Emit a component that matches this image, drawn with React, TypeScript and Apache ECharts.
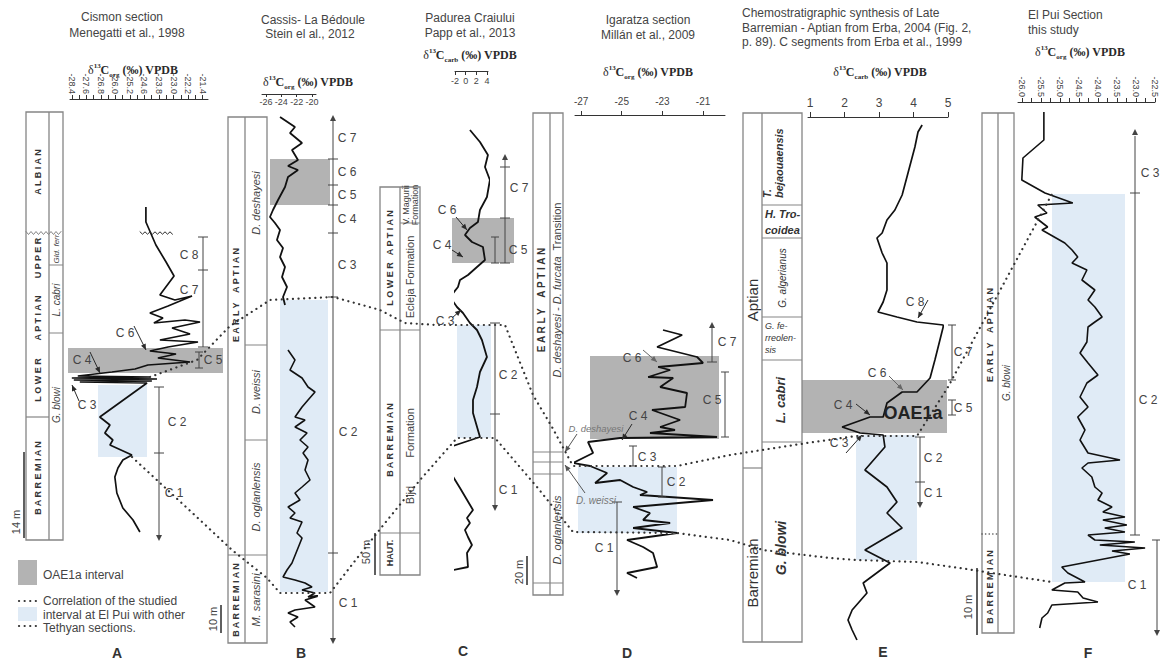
import React, { useEffect, useRef } from "react";
import * as echarts from "echarts";

// ---------------- DATA ----------------
// Tick labels
const ticksA = ["-28.4", "-27.6", "-26.8", "-26.0", "-25.2", "-24.6", "-23.8", "-23.0", "-22.2", "-21.4"];
const tickValuesA = [-28.4, -27.6, -26.8, -26.0, -25.2, -24.4, -23.6, -22.8, -22.0, -21.2];
const tickMinorA = [-28.4, -28.0, -27.6, -27.2, -26.8, -26.4, -26.0, -25.6, -25.2, -24.8, -24.4, -24.0, -23.6, -23.2, -22.8, -22.4, -22.0, -21.6, -21.2];
const ticksB = [-26, -24, -22, -20];
const ticksC = [-2, 0, 2, 4];
const ticksD = [-27, -25, -23, -21];
const ticksE = [1, 2, 3, 4, 5];
const ticksF = [-26, -25.5, -25, -24.5, -24, -23.5, -23, -22.5];
const tickMinorF = [-26, -25.75, -25.5, -25.25, -25, -24.75, -24.5, -24.25, -24, -23.75, -23.5, -23.25, -23, -22.75, -22.5];

// A - Cismon (d13C org) ; level = relative stratigraphic position (top -> bottom)
const cismonLevel = [207, 222, 245, 262, 276, 295, 300, 296, 306, 313, 318, 323, 320, 322, 328, 334, 340, 342, 347, 351, 354, 358, 362, 365, 369, 372, 374, 376, 377, 378, 379, 380, 381, 382, 383, 417, 425, 433, 440, 445, 455, 460, 468, 477, 493, 508, 520, 532];
const cismonD13C = [-24.32, -24.32, -23.77, -23.21, -22.77, -23.55, -22.72, -21.78, -23.1, -24.1, -23.38, -23.88, -22.17, -21.34, -22.88, -21.89, -23.55, -21.45, -23.1, -24.1, -22.66, -23.66, -21.89, -24.21, -24.92, -26.19, -27.13, -28.07, -24.1, -28.4, -23.71, -28.29, -23.99, -27.96, -24.26, -26.86, -26.3, -26.58, -26.14, -26.3, -25.09, -25.59, -25.86, -26.03, -25.92, -25.59, -25.03, -24.65];

// B - Cassis-La Bedoule (d13C org)
const cassisUpperLevel = [117, 127, 133, 143, 150, 160, 166, 170, 177, 187, 200, 210, 217, 223, 230, 240, 248, 257, 267, 277, 287, 297, 305];
const cassisUpperD13C = [-24.17, -22.22, -22.87, -21.3, -22.61, -21.83, -23.13, -21.83, -23.13, -23.52, -24.43, -25.09, -25.48, -24.83, -24.17, -24.57, -23.78, -24.17, -23.52, -23.91, -23.26, -23.78, -23.52];
const cassisLowerLevel = [350, 360, 370, 378, 387, 392, 400, 407, 417, 420, 427, 433, 440, 447, 453, 460, 470, 480, 487, 493, 500, 507, 513, 518, 522, 533, 538, 563, 570, 577, 580, 583, 587, 590, 593, 597, 595, 600, 607, 610, 613, 617, 622, 627];
const cassisLowerD13C = [-23.13, -22.22, -22.87, -21.3, -20.52, -19.61, -20.52, -21.3, -22.22, -20.91, -22.22, -20.65, -21.57, -20.52, -21.17, -20.52, -20.91, -20.26, -21.3, -22.22, -21.57, -23.13, -22.22, -22.87, -21.3, -21.96, -21.3, -22.61, -23.26, -23.78, -22.22, -20.91, -20.0, -21.3, -19.61, -20.52, -18.7, -20.91, -19.61, -22.22, -23.13, -21.83, -22.87, -22.22];

// C - Padurea Craiului (d13C carb)
const padureaLevel = [130, 142, 155, 167, 180, 197, 210, 222, 228, 235, 242, 247, 260, 267, 275, 280, 287, 297, 307, 313, 323, 330, 340, 357, 372, 387, 400, 413, 437, 453, 467, 488, 510, 518, 523, 530, 537, 545, 553, 567, 573];
const padureaD13C = [0.81, 2.69, 4.19, 3.63, 4.56, 4.0, 2.69, 2.31, 0.81, -0.13, 1.19, 3.25, 3.63, 2.13, 0.44, -1.06, -1.44, -2.94, -1.63, -0.5, 0.81, 2.13, 3.06, 4.0, 2.69, 2.13, 1.38, 1.38, 2.69, -6.31, -3.5, -1.06, 1.38, 0.25, 0.81, -0.13, 0.44, 1.19, 0.25, 0.44, -5.19];

// D - Igaratza (d13C org)
const igaratzaLevel = [330, 335, 347, 357, 363, 367, 370, 377, 378, 387, 393, 407, 410, 420, 427, 430, 433, 437, 438, 442, 453, 463, 466, 473, 483, 480, 487, 492, 495, 500, 507, 513, 520, 523, 528, 533, 540, 547, 553, 567, 573, 578];
const igaratzaD13C = [-22.97, -22.03, -23.26, -21.29, -21.0, -23.21, -22.62, -23.7, -22.47, -23.11, -21.79, -21.88, -23.51, -22.13, -23.11, -22.38, -23.61, -20.31, -25.08, -26.66, -26.41, -27.39, -26.56, -25.72, -26.31, -25.08, -24.44, -23.75, -24.1, -20.51, -24.44, -23.61, -23.95, -22.62, -24.44, -22.28, -24.74, -23.95, -23.46, -23.26, -24.74, -24.25];

// E - Erba synthesis (d13C carb)
const erbaLevel = [125, 132, 147, 173, 195, 210, 220, 233, 238, 253, 263, 290, 302, 312, 317, 322, 325, 327, 360, 378, 392, 392, 403, 417, 417, 427, 433, 435, 447, 470, 487, 502, 513, 528, 550, 563, 583, 593, 610, 620, 630, 640];
const erbaD13C = [4.25, 4.13, 4.04, 3.84, 3.67, 3.46, 3.23, 3.09, 2.94, 3.09, 3.23, 3.23, 3.12, 2.97, 3.52, 4.1, 4.86, 4.86, 4.62, 4.48, 4.1, 3.67, 3.23, 3.12, 2.74, 1.93, 2.45, 3.12, 3.17, 2.59, 3.23, 3.52, 3.23, 3.67, 2.59, 3.32, 2.54, 2.65, 2.22, 2.1, 2.22, 2.36];

// F - El Pui (d13C org)
const elPuiLevel = [112, 140, 158, 180, 193, 203, 205, 213, 217, 227, 230, 243, 250, 257, 263, 270, 280, 290, 300, 307, 317, 322, 327, 342, 353, 363, 375, 383, 397, 407, 417, 430, 440, 453, 460, 463, 468, 477, 487, 493, 500, 507, 512, 517, 520, 525, 528, 532, 535, 540, 542, 545, 548, 551, 554, 567, 573, 582, 583, 590, 592, 598, 602, 605, 613, 618, 628];
const elPuiD13C = [-25.42, -25.42, -25.97, -26.0, -25.39, -24.66, -25.58, -25.34, -25.66, -25.32, -25.47, -24.87, -24.68, -24.53, -24.68, -24.29, -24.42, -24.08, -24.26, -24.08, -23.89, -24.08, -24.26, -24.29, -24.47, -24.26, -24.0, -24.29, -24.47, -24.26, -24.53, -24.34, -24.47, -24.26, -23.42, -24.26, -24.42, -24.16, -24.08, -23.89, -24.0, -23.63, -23.87, -23.29, -23.87, -23.24, -23.82, -23.29, -24.26, -24.08, -23.03, -23.95, -22.76, -23.63, -23.16, -24.95, -24.79, -24.34, -24.87, -25.21, -24.53, -24.39, -24.0, -25.21, -25.32, -25.47, -25.53];

// ---------------- STYLE ----------------
const SANS = "'Liberation Sans', Arial, sans-serif";
const SERIF = "'Liberation Serif', 'Times New Roman', serif";
const INK = "#2a2a2a";
const LAB = "#444444";
const GRAY = "#b3b3b3";
const BLUE = "#e0ebf6";
const COL = "#858585";
const R = Math.PI / 2;

function buildGraphics() {
  const g: any[] = [];
  const rect = (x: number, y: number, w: number, h: number, fill: string, stroke: any = null, lw = 1, z = 0) =>
    g.push({ type: "rect", z, shape: { x, y, width: w, height: h }, style: { fill, stroke, lineWidth: lw } });
  const ln = (x1: number, y1: number, x2: number, y2: number, stroke = LAB, lw = 1, z = 5) =>
    g.push({ type: "line", z, shape: { x1, y1, x2, y2 }, style: { stroke, lineWidth: lw } });
  const pl = (pts: number[][], stroke = INK, lw = 1, dash: any = null, z = 5) =>
    g.push({ type: "polyline", z, shape: { points: pts }, style: { stroke, lineWidth: lw, lineDash: dash, fill: null, lineCap: "round" } });
  const head = (x1: number, y1: number, x2: number, y2: number, color = LAB, len = 6, w = 3) => {
    const dx = x2 - x1, dy = y2 - y1;
    const L = Math.sqrt(dx * dx + dy * dy) || 1;
    const ux = dx / L, uy = dy / L;
    const bx = x2 - ux * len, by = y2 - uy * len;
    g.push({ type: "polygon", z: 6, shape: { points: [[x2, y2], [bx - uy * w, by + ux * w], [bx + uy * w, by - ux * w]] }, style: { fill: color } });
  };
  const arrow = (x1: number, y1: number, x2: number, y2: number, color = INK) => {
    ln(x1, y1, x2, y2, color, 1);
    head(x1, y1, x2, y2, color, 6, 2.6);
  };
  const tick = (x: number, y: number, half = 5, c = LAB) => ln(x - half, y, x + half, y, c, 1);
  const bracket = (x: number, y1: number, y2: number) => {
    ln(x, y1, x, y2, LAB, 1);
    tick(x, y1, 4);
    tick(x, y2, 4);
  };
  const txt = (x: number, y: number, text: string, o: any = {}) =>
    g.push({
      type: "text", x, y, rotation: o.rot || 0, z: 20,
      style: {
        text, fill: o.fill || LAB, fontSize: o.size || 12, fontFamily: o.family || SANS,
        fontWeight: o.weight || "normal", fontStyle: o.style || "normal",
        align: o.align || "center", verticalAlign: "middle",
        textAlign: o.align || "center", textVerticalAlign: "middle", rich: o.rich,
      },
    });
  const vt = (x: number, y: number, text: string, o: any = {}) => txt(x, y, text, { ...o, rot: R });
  const zig = (x1: number, x2: number, y: number, a = 1.5) => {
    const pts: number[][] = [];
    let k = 0;
    for (let x = x1; x <= x2 + 0.01; x += 2.5) { pts.push([x, y + (k % 2 ? a : -a)]); k++; }
    return pts;
  };
  const dlabel = (x: number, y: number, sub: string) =>
    g.push({
      type: "text", x, y, z: 20,
      style: {
        text: `{d|δ}{s|13}{a|C}{b|${sub}}{a| (‰) VPDB}`,
        align: "center", verticalAlign: "middle", textAlign: "center", textVerticalAlign: "middle",
        rich: {
          d: { fontFamily: SERIF, fontSize: 12, fill: INK, color: INK, lineHeight: 16 },
          a: { fontFamily: SERIF, fontSize: 12, fontWeight: "bold", fill: INK, color: INK, lineHeight: 16 },
          s: { fontFamily: SERIF, fontSize: 7, fontWeight: "bold", fill: INK, color: INK, lineHeight: 9, verticalAlign: "top" },
          b: { fontFamily: SERIF, fontSize: 7, fontWeight: "bold", fill: INK, color: INK, lineHeight: 9, verticalAlign: "bottom" },
        },
      },
    });
  const stage = { weight: "bold", size: 9, fill: "#333" };
  const zone = { style: "italic", size: 11, fill: "#444" };

  // ---------- titles ----------
  txt(122, 17, "Cismon section");
  txt(127, 33, "Menegatti et al., 1998");
  txt(313, 20, "Cassis- La Bédoule");
  txt(310, 34, "Stein el al., 2012");
  txt(470, 18, "Padurea Craiului");
  txt(470, 33, "Papp et al., 2013");
  txt(648, 20, "Igaratza section");
  txt(648, 35, "Millán et al., 2009");
  txt(742, 13, "Chemostratigraphic synthesis of Late", { align: "left" });
  txt(742, 28, "Barremian - Aptian from Erba, 2004 (Fig. 2,", { align: "left" });
  txt(742, 42, "p. 89). C segments from Erba et al., 1999", { align: "left" });
  txt(1028, 15, "El Pui Section", { align: "left" });
  txt(1028, 30, "this study", { align: "left" });

  dlabel(133, 70, "org");
  dlabel(308, 82, "org");
  dlabel(470, 55, "carb");
  dlabel(648, 72, "org");
  dlabel(880, 72, "carb");
  dlabel(1080, 52, "org");

  // ---------- boxes ----------
  rect(68, 348, 155, 25, GRAY);
  rect(98, 385, 49, 72, BLUE);
  rect(270, 159, 60, 46, GRAY);
  rect(280, 300, 48, 292, BLUE);
  rect(452, 218, 62, 45, GRAY);
  rect(457, 325, 34, 113, BLUE);
  rect(590, 356, 129, 83, GRAY);
  rect(578, 467, 99, 66, BLUE);
  rect(762, 380, 185, 53, GRAY);
  rect(856, 435, 61, 125, BLUE);
  rect(1052, 194, 73, 388, BLUE);

  // ---------- Column A ----------
  rect(26, 112, 37, 428, "#fff", COL, 1.3, 2);
  ln(49, 112, 49, 540, COL, 1.3);
  pl(zig(26, 63, 233), COL, 1);
  ln(49, 265, 63, 265, COL, 1);
  ln(49, 333, 63, 333, COL, 1);
  ln(26, 417, 49, 417, COL, 1.2);
  vt(38, 172, "A L B I A N", stage);
  vt(38, 258, "U P P E R", stage);
  vt(38, 318, "A P T I A N", stage);
  vt(38, 380, "L O W E R", stage);
  vt(38, 478, "B A R R E M I A N", stage);
  vt(56, 249, "Gld. ferr", { ...zone, size: 8 });
  vt(56, 300, "L. cabri", { ...zone, size: 10 });
  vt(56, 405, "G. blowi", { ...zone, size: 10 });
  ln(24, 452, 24, 538, INK, 1.5);
  vt(16, 522, "14 m", { size: 11 });
  pl(zig(140, 173, 233, 1.2), INK, 1);
  // C segments A
  ln(159, 387, 159, 536, LAB, 1); head(159, 520, 159, 541, LAB);
  tick(159, 387); tick(159, 453);
  txt(177, 422, "C 2"); txt(174, 493, "C 1");
  ln(203, 237, 203, 347, LAB, 1);
  tick(203, 237); tick(203, 270); tick(203, 347);
  txt(189, 255, "C 8"); txt(189, 290, "C 7");
  bracket(199, 352, 368);
  txt(213, 360, "C 5");
  txt(125, 333, "C 6"); arrow(134, 326, 146, 350);
  txt(82, 360, "C 4"); arrow(90, 352, 100, 373);
  txt(87, 405, "C 3"); arrow(79, 401, 72, 385);

  // ---------- Column B ----------
  rect(228, 117, 39, 526, "#fff", COL, 1.3, 2);
  ln(245, 117, 245, 643, COL, 1.3);
  ln(245, 345, 267, 345, COL, 1);
  ln(245, 440, 267, 440, COL, 1);
  ln(228, 555, 267, 555, COL, 1.2);
  vt(236, 295, "E A R L Y    A P T I A N", stage);
  vt(236, 600, "B A R R E M I A N", stage);
  vt(256, 203, "D. deshayesi", zone);
  vt(256, 392, "D. weissi", zone);
  vt(256, 497, "D. oglanlensis", zone);
  vt(256, 600, "M. sarasini", zone);
  ln(221, 605, 221, 633, INK, 1.5);
  vt(213, 619, "10 m", { size: 11 });
  ln(333, 121, 333, 638, LAB, 1);
  head(333, 130, 333, 115, LAB); head(333, 630, 333, 644, LAB);
  [159, 185, 205, 233, 297, 553].forEach((y) => tick(333, y));
  txt(347, 138, "C 7"); txt(347, 172, "C 6"); txt(347, 195, "C 5"); txt(347, 219, "C 4");
  txt(347, 265, "C 3"); txt(348, 432, "C 2"); txt(348, 603, "C 1");

  // ---------- Column C ----------
  rect(380, 187, 40, 388, "#fff", COL, 1.3, 2);
  ln(400, 187, 400, 575, COL, 1.3);
  ln(400, 223, 420, 223, COL, 1);
  ln(380, 330, 420, 330, COL, 1.2);
  ln(380, 533, 420, 533, COL, 1.2);
  vt(390, 258, "L O W E R   A P T I A N", stage);
  vt(390, 440, "B A R R E M I A N", stage);
  vt(390, 553, "HAUT.", { weight: "bold", size: 9, fill: "#333" });
  vt(406, 205, "V. Magurii", { size: 9 });
  vt(415, 205, "Formation", { size: 9 });
  vt(410, 277, "Ecleja Formation", { size: 11 });
  vt(410, 433, "Formation", { size: 11 });
  vt(410, 495, "Bijd", { size: 11 });
  ln(375, 533, 375, 575, INK, 1.5);
  vt(366, 552, "50 m", { size: 11 });
  ln(505, 160, 505, 263, LAB, 1); head(505, 170, 505, 154, LAB);
  tick(505, 167); tick(505, 218); tick(505, 263);
  txt(519, 188, "C 7");
  bracket(495, 237, 263);
  txt(518, 250, "C 5");
  ln(495, 323, 495, 505, LAB, 1); head(495, 495, 495, 511, LAB);
  tick(495, 323); tick(495, 414);
  txt(508, 375, "C 2"); txt(508, 490, "C 1");
  txt(447, 210, "C 6"); arrow(456, 217, 467, 230);
  txt(442, 245, "C 4"); arrow(452, 250, 463, 257);
  txt(445, 321, "C 3"); arrow(452, 318, 461, 310);

  // ---------- Column D ----------
  rect(533, 113, 30, 482, "#fff", COL, 1.3, 2);
  ln(550, 113, 550, 595, COL, 1.3);
  [452, 462, 474, 583].forEach((y) => ln(533, y, 563, y, COL, 1));
  vt(541, 300, "E A R L Y    A P T I A N", { ...stage, size: 10 });
  g.push({
    type: "text", x: 557, y: 290, rotation: R, z: 20,
    style: {
      text: "{i|D. deshayesi - D. furcata}{n|  Transition}",
      align: "center", verticalAlign: "middle", textAlign: "center", textVerticalAlign: "middle",
      rich: {
        i: { fontFamily: SANS, fontStyle: "italic", fontSize: 11, fill: "#444", color: "#444" },
        n: { fontFamily: SANS, fontSize: 11, fill: "#444", color: "#444" },
      },
    },
  });
  vt(557, 530, "D. oglanlensis", zone);
  ln(527, 556, 527, 585, INK, 1.5);
  vt(519, 572, "20 m", { size: 11 });
  ln(712, 328, 712, 362, LAB, 1); head(712, 335, 712, 322, LAB);
  tick(712, 362);
  txt(727, 342, "C 7");
  bracket(725, 372, 437); txt(712, 400, "C 5");
  bracket(633, 446, 466); txt(647, 457, "C 3");
  bracket(662, 467, 497); txt(676, 482, "C 2");
  ln(617, 502, 617, 590, LAB, 1); head(617, 580, 617, 596, LAB); tick(617, 502);
  txt(604, 548, "C 1");
  txt(632, 358, "C 6"); arrow(643, 350, 657, 362, "#666");
  txt(638, 416, "C 4"); arrow(632, 424, 622, 440);
  txt(596, 428, "D. deshayesi", { style: "italic", size: 9.5, fill: "#777" });
  arrow(577, 434, 565, 452, "#555");
  txt(596, 500, "D. weissi", { style: "italic", size: 10, fill: "#777" });
  arrow(585, 493, 565, 465, "#555");

  // ---------- Column E ----------
  rect(743, 113, 59, 529, "#fff", COL, 1.3, 2);
  ln(762, 113, 762, 642, COL, 1.3);
  ln(743, 468, 762, 468, COL, 1.2);
  [205, 238, 317, 360, 442].forEach((y) => ln(762, y, 802, y, COL, 1));
  vt(752, 300, "Aptian", { size: 15, fill: "#333" });
  vt(752, 573, "Barremian", { size: 15, fill: "#333" });
  vt(767, 198, "T.", { style: "italic", weight: "bold", size: 11, fill: "#333", align: "left" });
  vt(779, 198, "bejaouaensis", { style: "italic", weight: "bold", size: 11, fill: "#333", align: "left" });
  txt(765, 214, "H. Tro-", { style: "italic", weight: "bold", size: 11, fill: "#333", align: "left" });
  txt(765, 230, "coidea", { style: "italic", weight: "bold", size: 11, fill: "#333", align: "left" });
  vt(782, 278, "G. algerianus", { style: "italic", size: 10, fill: "#333" });
  txt(765, 326, "G. fe-", { style: "italic", size: 9, fill: "#333", align: "left" });
  txt(765, 338, "rreolen-", { style: "italic", size: 9, fill: "#333", align: "left" });
  txt(765, 350, "sis", { style: "italic", size: 9, fill: "#333", align: "left" });
  vt(780, 400, "L. cabri", { style: "italic", weight: "bold", size: 13, fill: "#333" });
  vt(781, 548, "G. blowi", { style: "italic", weight: "bold", size: 14, fill: "#333" });
  txt(913, 413, "OAE1a", { weight: "bold", size: 18, fill: "#222" });
  ln(920, 437, 920, 502, LAB, 1); head(920, 495, 920, 508, LAB);
  tick(920, 437); tick(920, 482);
  txt(933, 458, "C 2"); txt(933, 493, "C 1");
  bracket(952, 325, 380); txt(963, 352, "C 7");
  bracket(952, 400, 415); txt(963, 408, "C 5");
  txt(915, 302, "C 8"); arrow(928, 300, 918, 318);
  txt(877, 373, "C 6"); arrow(889, 376, 903, 390, "#666");
  txt(843, 405, "C 4"); arrow(856, 404, 870, 415);
  txt(839, 443, "C 3"); arrow(846, 453, 862, 435);

  // ---------- Column F ----------
  rect(982, 113, 32, 520, "#fff", COL, 1.3, 2);
  ln(998, 113, 998, 633, COL, 1.3);
  pl([[982, 534], [998, 534]], "#555", 1.6, [0.1, 3.5], 6);
  vt(990, 335, "E A R L Y    A P T I A N", stage);
  vt(990, 587, "B A R R E M I A N", stage);
  vt(1006, 383, "G. blowi", { ...zone, size: 10 });
  ln(977, 568, 977, 635, INK, 1.5);
  vt(968, 607, "10 m", { size: 11 });
  ln(1135, 136, 1135, 535, LAB, 1); head(1135, 145, 1135, 129, LAB);
  tick(1135, 193); tick(1135, 535);
  txt(1150, 173, "C 3"); txt(1148, 400, "C 2");
  ln(1157, 540, 1157, 630, LAB, 1); head(1157, 620, 1157, 636, LAB); tick(1157, 540);
  txt(1137, 585, "C 1");

  // ---------- correlation lines ----------
  const dots = [0.1, 5.5];
  pl([[150, 377], [197, 360], [230, 326], [270, 300], [333, 297], [380, 310], [405, 323], [437, 325], [505, 325], [533, 395], [552, 427], [573, 466], [677, 466], [730, 455], [807, 443], [856, 436], [917, 436], [948, 387], [1052, 194]], "#333", 2.2, dots, 7);
  pl([[132, 457], [200, 520], [232, 550], [267, 578], [280, 593], [330, 593], [358, 557], [385, 523], [420, 480], [457, 438], [495, 438], [537, 487], [573, 532], [677, 533], [730, 540], [763, 550], [830, 558], [856, 560], [917, 562], [960, 568], [1005, 575], [1052, 582]], "#333", 2.2, dots, 7);

  // ---------- legend ----------
  rect(18, 560, 19, 25, GRAY);
  txt(43, 575, "OAE1a interval", { align: "left" });
  rect(18, 607, 19, 14, BLUE);
  pl([[19, 601], [37, 601]], "#333", 2.2, [0.1, 5.5], 7);
  pl([[19, 626], [37, 626]], "#333", 2.2, [0.1, 5.5], 7);
  txt(43, 601, "Correlation of the studied", { align: "left" });
  txt(43, 615, "interval at El Pui with other", { align: "left" });
  txt(43, 628, "Tethyan sections.", { align: "left" });

  // ---------- panel letters ----------
  const L = { weight: "bold", size: 14, fill: "#333" };
  txt(117, 653, "A", L);
  txt(301, 653, "B", L);
  txt(463, 651, "C", L);
  txt(627, 653, "D", L);
  txt(883, 652, "E", L);
  txt(1088, 653, "F", L);
  return g;
}

const zip = (vals: number[], lev: number[]) => lev.map((l, k) => [vals[k], l]);

function buildOption() {
  const axisTop = (i: number, min: number, max: number, extra: any) => ({
    type: "value", gridIndex: i, position: "top", min, max,
    splitLine: { show: false },
    axisLine: { show: true, onZero: false, lineStyle: { color: "#333", width: 1 } },
    ...extra,
  });
  const lab = { color: "#444", fontFamily: SANS, interval: 0, hideOverlap: false, showMinLabel: true, showMaxLabel: true };
  const grids = [
    { left: 70, top: 99, width: 138, height: 565 },
    { left: 262, top: 94, width: 54, height: 570 },
    { left: 455, top: 71, width: 33, height: 593 },
    { left: 575, top: 115, width: 150, height: 549 },
    { left: 808, top: 117, width: 140, height: 547 },
    { left: 1018, top: 102, width: 137, height: 562 },
  ];
  const xAxis = [
    axisTop(0, -28.5, -20.9, {
      axisTick: { show: true, customValues: tickMinorA, length: 4, lineStyle: { color: "#333" } },
      axisLabel: {
        ...lab, show: true, customValues: tickValuesA, rotate: 90, fontSize: 9, margin: 5,
        formatter: (v: number) => {
          let bi = 0;
          tickValuesA.forEach((t, k) => { if (Math.abs(t - v) < Math.abs(tickValuesA[bi] - v)) bi = k; });
          return ticksA[bi];
        },
      },
    }),
    axisTop(1, -26.52, -19.48, {
      axisTick: { show: true, customValues: ticksB, inside: true, length: 3, lineStyle: { color: "#333" } },
      axisLabel: { ...lab, customValues: ticksB, inside: true, fontSize: 9, margin: 3 },
    }),
    axisTop(2, -2, 4.2, {
      axisTick: { show: true, customValues: ticksC, inside: true, length: 4, lineStyle: { color: "#333" } },
      axisLabel: { ...lab, customValues: ticksC, inside: true, fontSize: 9, margin: 5 },
    }),
    axisTop(3, -27.3, -19.92, {
      axisTick: { show: true, customValues: ticksD, length: 4, lineStyle: { color: "#333" } },
      axisLabel: { ...lab, customValues: ticksD, fontSize: 10, margin: 9 },
    }),
    axisTop(4, 0.94, 5.0, {
      axisTick: { show: true, customValues: ticksE, length: 5, lineStyle: { color: "#333" } },
      axisLabel: { ...lab, customValues: ticksE, fontSize: 12, margin: 8 },
    }),
    axisTop(5, -26.1, -22.5, {
      axisTick: { show: true, customValues: tickMinorF, length: 4, lineStyle: { color: "#333" } },
      axisLabel: { ...lab, customValues: ticksF, rotate: 90, fontSize: 9, margin: 5, formatter: (v: number) => v.toFixed(1) },
    }),
  ];
  const yAxis = grids.map((gr, i) => ({ type: "value", gridIndex: i, min: gr.top, max: 664, inverse: true, show: false }));
  const line = (i: number, data: number[][], w = 1.8) => ({
    type: "line", xAxisIndex: i, yAxisIndex: i, data, symbol: "none", showSymbol: false, clip: false, z: 3,
    lineStyle: { color: "#111", width: w }, silent: true,
  });
  return {
    animation: false,
    backgroundColor: "#ffffff",
    grid: grids.map((g) => ({ ...g, containLabel: false })),
    xAxis,
    yAxis,
    series: [
      line(0, zip(cismonD13C, cismonLevel), 1.7),
      line(1, zip(cassisUpperD13C, cassisUpperLevel)),
      line(1, zip(cassisLowerD13C, cassisLowerLevel), 1.6),
      line(2, zip(padureaD13C, padureaLevel)),
      line(3, zip(igaratzaD13C, igaratzaLevel)),
      line(4, zip(erbaD13C, erbaLevel), 1.7),
      line(5, zip(elPuiD13C, elPuiLevel), 1.6),
    ],
    graphic: { elements: buildGraphics() },
  };
}

export default function App() {
  const ref = useRef<HTMLDivElement>(null);
  useEffect(() => {
    if (!ref.current) return;
    const chart = echarts.init(ref.current, undefined, { renderer: "svg" });
    chart.setOption(buildOption() as any);
    return () => chart.dispose();
  }, []);
  return <div ref={ref} style={{ position: "fixed", left: 0, top: 0, width: 1160, height: 664, background: "#fff" }} />;
}
